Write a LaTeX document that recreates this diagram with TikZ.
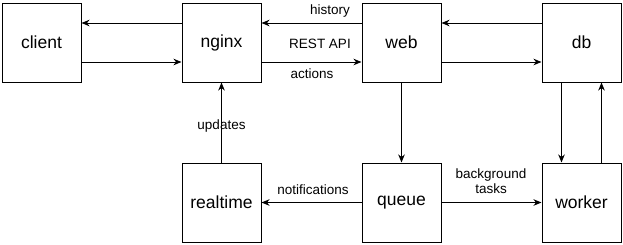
\documentclass[tikz,border=0pt]{standalone}
\usepackage{fontspec}
\setmainfont{Liberation Sans}
\usetikzlibrary{arrows.meta}
\begin{document}
\begin{tikzpicture}[x=1pt,y=-1pt,
  box/.style={draw,line width=1pt,minimum width=79pt,minimum height=79pt,inner sep=0pt,font=\fontsize{17.5}{20}\selectfont},
  link/.style={line width=1pt,-{Stealth[length=8pt,width=6.5pt,inset=2.5pt]}},
  lbl/.style={font=\fontsize{13.5}{15}\selectfont,inner sep=0pt,align=center}]
\useasboundingbox (0,0) rectangle (623,244);
% top row
\node[box] (client) at (41.5,42.5) {client};
\node[box] (nginx) at (221.5,42.5) {nginx};
\node[box] (web) at (401.5,42.5) {web};
\node[box] (db) at (581.5,42.5) {db};
% bottom row
\node[box] (realtime) at (221.5,202.5) {realtime};
\node[box] (queue) at (401.5,202.5) {queue};
\node[box] (worker) at (581.5,202.5) {worker};
% horizontal links, upper and lower lanes
\draw[link] (nginx.west |- 0,23) -- (client.east |- 0,23);
\draw[link] (client.east |- 0,62) -- (nginx.west |- 0,62);
\draw[link] (web.west |- 0,23) -- (nginx.east |- 0,23);
\draw[link] (nginx.east |- 0,62) -- (web.west |- 0,62);
\draw[link] (db.west |- 0,23) -- (web.east |- 0,23);
\draw[link] (web.east |- 0,62) -- (db.west |- 0,62);
% vertical links
\draw[link] (web.south) -- (queue.north);
\draw[link] (realtime.north) -- (nginx.south);
\draw[link] (db.south -| 561.5,0) -- (worker.north -| 561.5,0);
\draw[link] (worker.north -| 601.5,0) -- (db.south -| 601.5,0);
% queue fan-out
\draw[link] (queue.west) -- (realtime.east);
\draw[link] (queue.east) -- (worker.west);
% labels
\node[lbl] (lhistory) at (330,11) {history};
\node[lbl] (lrest) at (320,44) {REST API};
\node[lbl] (lactions) at (312,74) {actions};
\node[lbl] (lupdates) at (221.5,126) {updates};
\node[lbl] (lnotif) at (313,190) {notifications};
\node[lbl,font=\fontsize{13.5}{15.5}\selectfont] (ltasks) at (491,181) {background\\tasks};
\end{tikzpicture}
\end{document}
